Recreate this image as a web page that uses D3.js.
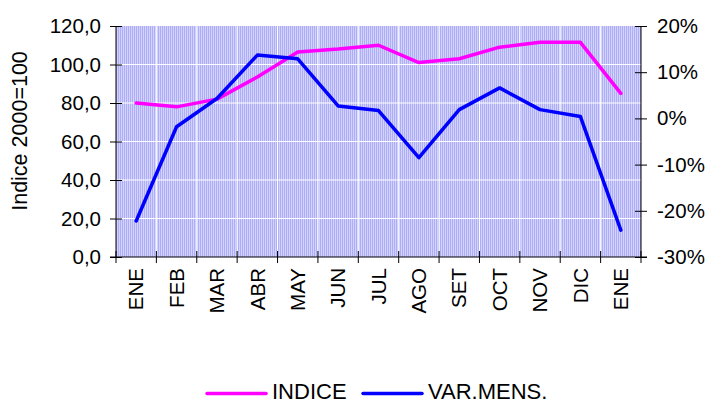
<!DOCTYPE html>
<html lang="en">
<head>
<meta charset="UTF-8">
<title>Indice</title>
<script src="https://cdnjs.cloudflare.com/ajax/libs/d3/7.8.5/d3.min.js"></script>
<style>
body { margin: 0; background: #fff; overflow: hidden; }
text { font-family: "Liberation Sans", Arial, sans-serif; fill: #000; }
</style>
</head>
<body>
<script>
// data
var months = ["ENE", "FEB", "MAR", "ABR", "MAY", "JUN", "JUL", "AGO", "SET", "OCT", "NOV", "DIC", "ENE"];
var indice = [80, 78, 82, 93.5, 106.5, 108, 110, 101, 103, 109, 111.5, 111.5, 85];
var varMens = [-22.2, -1.8, 4.3, 13.7, 12.9, 2.7, 1.7, -8.5, 1.9, 6.6, 1.9, 0.4, -24.2];
var leftTicks = [0, 20, 40, 60, 80, 100, 120];
var rightTicks = [-30, -20, -10, 0, 10, 20];

var W = 712, H = 401;
var margin = {top: 26, right: 71, bottom: 144, left: 116};
var width = W - margin.left - margin.right,
    height = H - margin.top - margin.bottom;

var svg = d3.select("body").append("svg")
    .attr("width", W)
    .attr("height", H);

var defs = svg.append("defs");
var pat = defs.append("pattern")
    .attr("id", "stripes")
    .attr("patternUnits", "userSpaceOnUse")
    .attr("width", 2).attr("height", 2);
pat.append("rect").attr("width", 1).attr("height", 2).attr("fill", "#aeaef6");
pat.append("rect").attr("x", 1).attr("width", 1).attr("height", 2).attr("fill", "#d2d2fc");

var g = svg.append("g")
    .attr("transform", "translate(" + margin.left + "," + margin.top + ")");

var x = d3.scaleBand().domain(d3.range(months.length)).range([0, width]);
var y = d3.scaleLinear().domain([0, 120]).range([height, 0]);
var y2 = d3.scaleLinear().domain([-30, 20]).range([height, 0]);

g.append("rect")
    .attr("width", width).attr("height", height)
    .attr("fill", "url(#stripes)");

// white grid
g.selectAll(".hgrid").data(leftTicks.slice(1, -1)).enter().append("line")
    .attr("x1", 0).attr("x2", width)
    .attr("y1", function(d) { return y(d); }).attr("y2", function(d) { return y(d); })
    .attr("stroke", "#fff").attr("stroke-width", 1);
g.selectAll(".vgrid").data(d3.range(1, months.length)).enter().append("line")
    .attr("x1", function(d) { return x(d); }).attr("x2", function(d) { return x(d); })
    .attr("y1", 0).attr("y2", height)
    .attr("stroke", "#fff").attr("stroke-width", 1);

// left axis (ticks cross the axis line)
var yAxis = g.append("g")
    .call(d3.axisLeft(y).tickValues(leftTicks).tickSize(6).tickFormat(function(d) { return d3.format(".1f")(d).replace(".", ","); }));
yAxis.selectAll(".tick line").attr("x2", 6).attr("x1", -6);
yAxis.selectAll("text").style("font-size", "20.5px").attr("x", -15);
yAxis.select(".domain").attr("d", "M0,0V" + height);

// right axis
var y2Axis = g.append("g")
    .attr("transform", "translate(" + width + ",0)")
    .call(d3.axisRight(y2).tickValues(rightTicks).tickSize(6).tickFormat(function(d) { return d + "%"; }));
y2Axis.selectAll(".tick line").attr("x1", -6).attr("x2", 6);
y2Axis.selectAll("text").style("font-size", "20.5px").attr("x", 16);
y2Axis.select(".domain").attr("d", "M0,0V" + height);

// bottom axis
var xAxis = g.append("g")
    .attr("transform", "translate(0," + height + ")")
    .call(d3.axisBottom(x).tickSize(0).tickFormat(function(d) { return months[d]; }));
xAxis.select(".domain").remove();
xAxis.selectAll("text")
    .style("font-size", "20.5px")
    .attr("transform", "rotate(-90)")
    .attr("text-anchor", "end")
    .attr("x", -11).attr("y", 0).attr("dy", "0.35em");
g.append("line").attr("x1", -6).attr("x2", width + 6)
    .attr("y1", height).attr("y2", height).attr("stroke", "#000");
g.selectAll(".xtick").data(d3.range(months.length + 1)).enter().append("line")
    .attr("x1", function(d) { return d * x.bandwidth(); })
    .attr("x2", function(d) { return d * x.bandwidth(); })
    .attr("y1", height - 6).attr("y2", height + 6)
    .attr("stroke", "#000");

// lines
var cx = function(d, i) { return x(i) + x.bandwidth() / 2; };
g.append("path").datum(indice)
    .attr("fill", "none").attr("stroke", "#ff00ff").attr("stroke-width", 3.5)
    .attr("stroke-linejoin", "round").attr("stroke-linecap", "round")
    .attr("d", d3.line().x(cx).y(function(d) { return y(d); }));
g.append("path").datum(varMens)
    .attr("fill", "none").attr("stroke", "#0000ff").attr("stroke-width", 3.5)
    .attr("stroke-linejoin", "round").attr("stroke-linecap", "round")
    .attr("d", d3.line().x(cx).y(function(d) { return y2(d); }));

// axis title
svg.append("text")
    .attr("transform", "translate(27,131) rotate(-90)")
    .attr("text-anchor", "middle")
    .style("font-size", "21.5px")
    .text("Indice 2000=100");

// legend
var legend = [{name: "INDICE", color: "#ff00ff", x: 207}, {name: "VAR.MENS.", color: "#0000ff", x: 363}];
legend.forEach(function(l) {
    svg.append("line").attr("x1", l.x).attr("x2", l.x + 59)
        .attr("y1", 393.5).attr("y2", 393.5)
        .attr("stroke", l.color).attr("stroke-width", 3.5).attr("stroke-linecap", "round");
    svg.append("text").attr("x", l.x + 65).attr("y", 399)
        .style("font-size", "22px").text(l.name);
});
</script>
</body>
</html>
